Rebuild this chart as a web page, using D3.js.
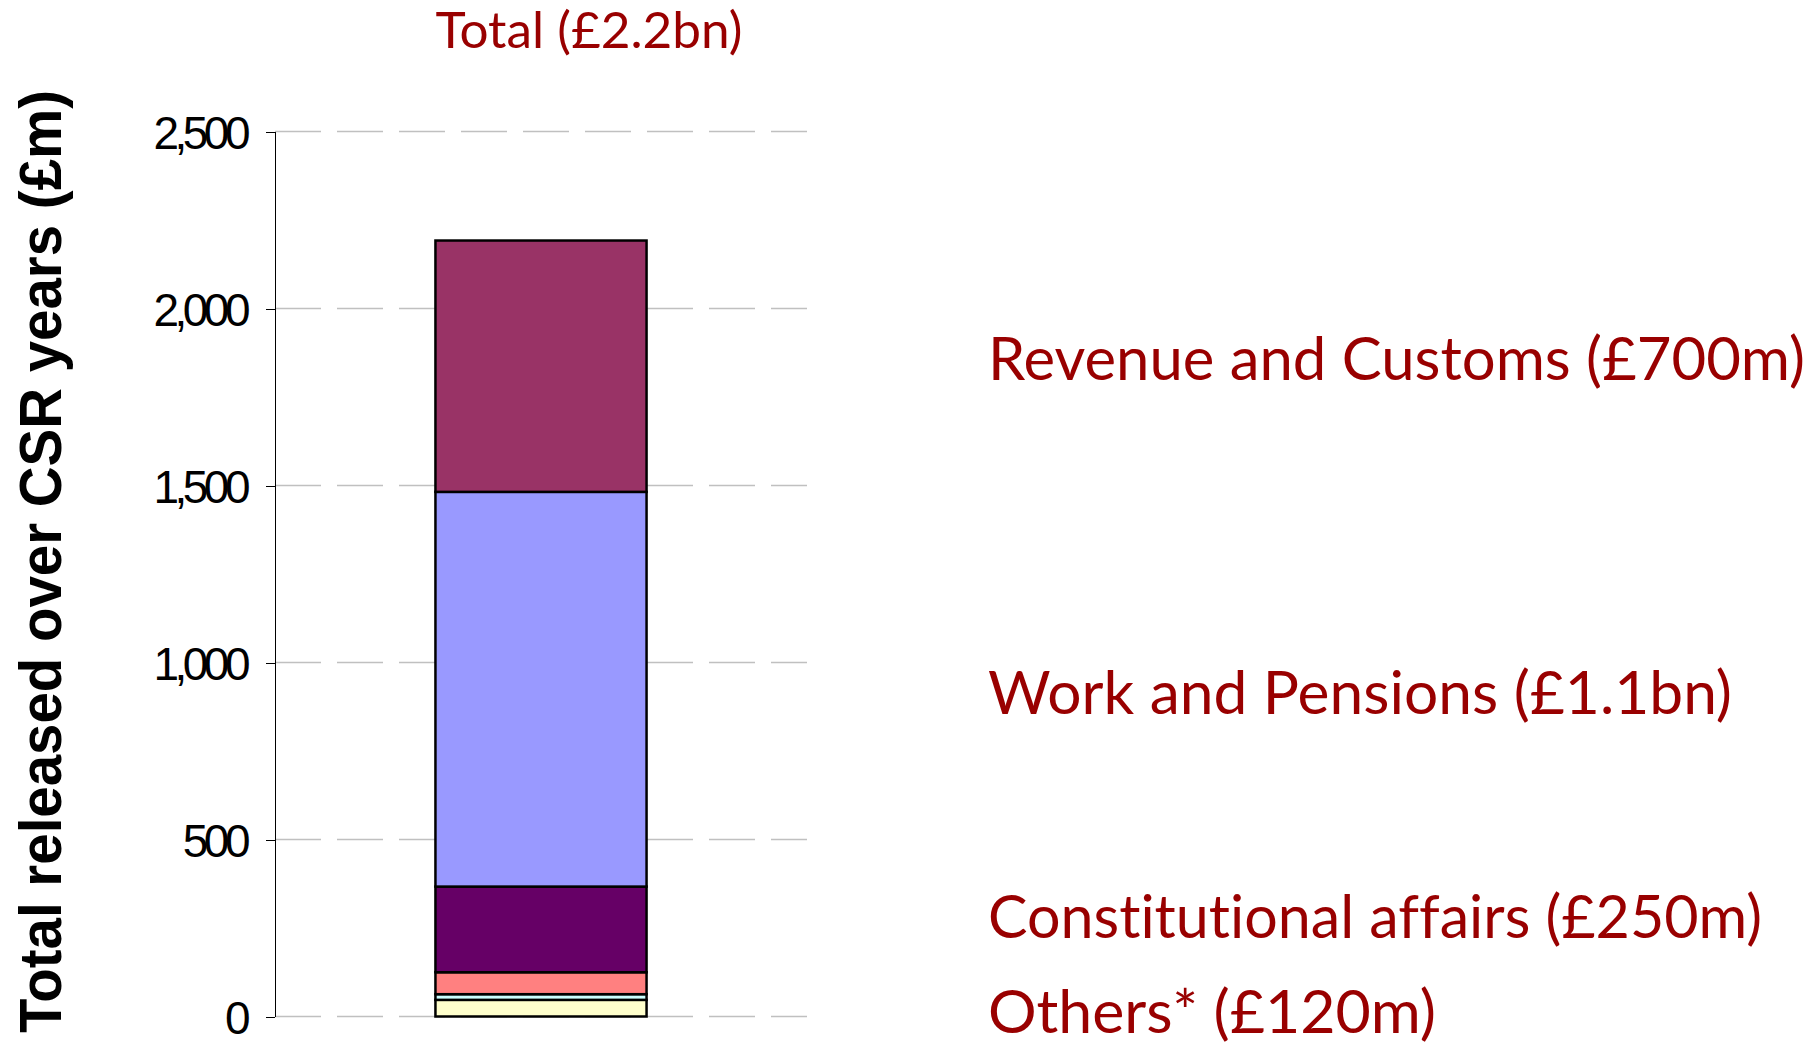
<!DOCTYPE html>
<html>
<head>
  <meta charset="utf-8">
  <script src="https://d3js.org/d3.v7.min.js"></script>
  <style>
    body { margin: 0; background: #fff; }
    svg { display: block; }
    .grid line { stroke: #c0c0c0; stroke-width: 1.5px; stroke-dasharray: 46 16; }
    .axis path, .axis line { stroke: #000; stroke-width: 1px; shape-rendering: crispEdges; }
    .axis text { font-family: "Liberation Sans", Arial, sans-serif; font-size: 46px; letter-spacing: -4.5px; fill: #000; }
    .label { font-family: Lato, "Open Sans", sans-serif; fill: #990000; font-variant-ligatures: none; font-feature-settings: "liga" 0, "clig" 0, "dlig" 0; }
    .ytitle { font-family: "Liberation Sans", Arial, sans-serif; font-weight: bold; font-size: 60px; fill: #000; }
  </style>
</head>
<body>
<svg id="chart"></svg>
<script>

  // data
  var categories = ["Total"];
  var segmentNames = ["Others (a)", "Others (b)", "Others (c)", "Constitutional affairs", "Work and Pensions", "Revenue and Customs"];
  var segmentValues = [47, 16, 62, 242, 1115, 710];
  var segmentColors = ["#ffffcc", "#ccffff", "#ff8080", "#660066", "#9999ff", "#993366"];
  var yTicks = [0, 500, 1000, 1500, 2000, 2500];
  var totalLabel = "Total (£2.2bn)";
  var yTitle = "Total released over CSR years (£m)";
  var groupLabels = ["Revenue and Customs (£700m)", "Work and Pensions (£1.1bn)", "Constitutional affairs (£250m)", "Others* (£120m)"];

  // layout
  var width = 1820, height = 1047;
  var plot = {left: 275, right: 807, top: 131.5, bottom: 1016.5};
  var labelX = 988;
  var labelBaselines = [379.5, 714, 938, 1033];
  var labelLengths = [817, 744, 774, 448];

  var svg = d3.select("#chart")
      .attr("width", width)
      .attr("height", height);

  var y = d3.scaleLinear()
      .domain([0, 2500])
      .range([plot.bottom, plot.top]);

  var x = d3.scaleBand()
      .domain(categories)
      .range([plot.left, plot.right])
      .paddingInner(0)
      .paddingOuter(0.76);

  var color = d3.scaleOrdinal()
      .domain(segmentNames)
      .range(segmentColors);

  // gridlines
  svg.append("g")
      .attr("class", "grid")
    .selectAll("line")
    .data(yTicks)
    .enter().append("line")
      .attr("x1", plot.left)
      .attr("x2", plot.right)
      .attr("y1", function(d) { return y(d); })
      .attr("y2", function(d) { return y(d); });

  // stacked bar
  var row = {category: categories[0]};
  segmentNames.forEach(function(k, i) { row[k] = segmentValues[i]; });
  var series = d3.stack().keys(segmentNames)([row]);

  svg.append("g")
    .selectAll("rect")
    .data(series)
    .enter().append("rect")
      .attr("x", x(categories[0]))
      .attr("width", x.bandwidth())
      .attr("y", function(d) { return y(d[0][1]); })
      .attr("height", function(d) { return y(d[0][0]) - y(d[0][1]); })
      .attr("fill", function(d) { return color(d.key); })
      .attr("stroke", "#000")
      .attr("stroke-width", 2.5);

  // y axis
  var yAxis = d3.axisLeft(y)
      .tickValues(yTicks)
      .tickFormat(d3.format(","))
      .tickSizeInner(9)
      .tickSizeOuter(0)
      .tickPadding(20);

  svg.append("g")
      .attr("class", "axis")
      .attr("transform", "translate(" + plot.left + ",0)")
      .call(yAxis);

  svg.selectAll(".axis text").attr("dy", "0.36em");

  // y title
  svg.append("text")
      .attr("class", "ytitle")
      .attr("transform", "translate(61," + ((90 + 1033) / 2) + ") rotate(-90)")
      .attr("text-anchor", "middle")
      .attr("textLength", 943)
      .attr("lengthAdjust", "spacingAndGlyphs")
      .text(yTitle);

  // total label
  svg.append("text")
      .attr("class", "label")
      .attr("x", x(categories[0]))
      .attr("y", 48)
      .attr("font-size", 50)
      .attr("textLength", 307)
      .attr("lengthAdjust", "spacingAndGlyphs")
      .text(totalLabel);

  // department labels
  svg.append("g")
    .selectAll("text")
    .data(groupLabels)
    .enter().append("text")
      .attr("class", "label")
      .attr("x", labelX)
      .attr("y", function(d, i) { return labelBaselines[i]; })
      .attr("font-size", 60)
      .attr("textLength", function(d, i) { return labelLengths[i]; })
      .attr("lengthAdjust", "spacingAndGlyphs")
      .text(function(d) { return d; });

</script>
</body>
</html>
